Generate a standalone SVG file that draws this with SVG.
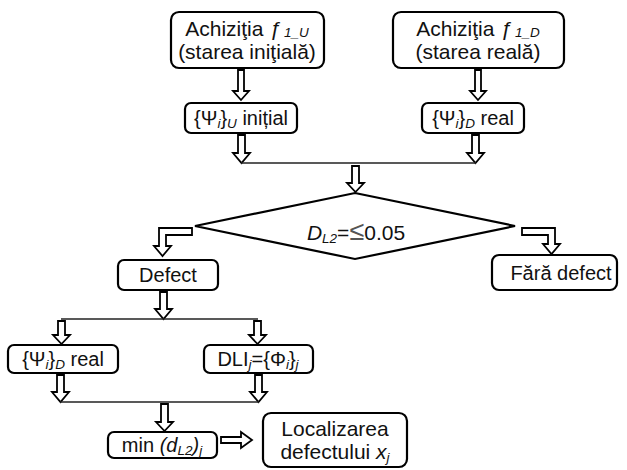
<svg xmlns="http://www.w3.org/2000/svg" width="627" height="470" viewBox="0 0 627 470">
<style>
.box{fill:#fff;stroke:#000;stroke-width:2.2}
.arr{fill:#fff;stroke:#000;stroke-width:1.8;stroke-linejoin:miter}
.ln{fill:none;stroke:#222;stroke-width:1.4}
text{font-family:"Liberation Sans",Arial,sans-serif;font-size:20px;fill:#111}
.big{font-size:21px}
.it{font-style:italic}
.sub{font-style:italic;font-size:13.5px}
</style>
<rect width="627" height="470" fill="#fff"/>
<g id="connectors">
<path class="arr" d="M238,70 H244 V91 H249 L241,100 L233,91 H238 Z"/>
<path class="arr" d="M475,70 H481 V91 H486 L478,100 L470,91 H475 Z"/>
<path class="arr" d="M238,135 H245 V153 H250 L241.5,163 L233,153 H238 Z"/>
<path class="arr" d="M472,135 H479 V153 H484 L475.5,163 L467,153 H472 Z"/>
<line class="ln" x1="241" y1="163" x2="476" y2="163"/>
<path class="arr" d="M352,166 H359 V183 H364 L355.5,192 L347,183 H352 Z"/>
<path class="arr" d="M192,228 H159 V246 H154 L162.5,256 L171,246 H166 V235 H192 Z"/>
<path class="arr" d="M522,228 H555 V244 H560 L551.5,254 L543,244 H548 V235 H522 Z"/>
<path class="arr" d="M160,292 H167 V309 H172 L163.5,319 L155,309 H160 Z"/>
<line class="ln" x1="61" y1="319" x2="258" y2="319"/>
<path class="arr" d="M58,321 H65 V335 H70 L61.5,344 L53,335 H58 Z"/>
<path class="arr" d="M254,321 H261 V335 H266 L257.5,344 L249,335 H254 Z"/>
<path class="arr" d="M57,375 H64 V392 H69 L60.5,402 L52,392 H57 Z"/>
<path class="arr" d="M255,375 H262 V392 H267 L258.5,402 L250,392 H255 Z"/>
<line class="ln" x1="60" y1="402" x2="259" y2="402"/>
<path class="arr" d="M161,404 H168 V422 H173 L164.5,431 L156,422 H161 Z"/>
<path class="arr" d="M221,437 H241 V432 L252,440 L241,448 V443 H221 Z"/>
</g>
<g id="n1">
<rect class="box" x="171" y="12" width="153" height="56" rx="8"/>
<text class="big" x="247" y="36" text-anchor="middle">Achiziţia <tspan class="it">ƒ</tspan><tspan class="sub" dx="3" dy="1">1_U</tspan></text>
<text class="big" x="247" y="59" text-anchor="middle">(starea iniţială)</text>
</g>
<g id="n2">
<rect class="box" x="393" y="12" width="171" height="56" rx="8"/>
<text class="big" x="478" y="36" text-anchor="middle">Achiziţia <tspan class="it">ƒ</tspan><tspan class="sub" dx="3" dy="1">1_D</tspan></text>
<text class="big" x="478" y="59" text-anchor="middle">(starea reală)</text>
</g>
<g id="n3">
<rect class="box" x="185" y="103" width="112" height="30" rx="6"/>
<text x="241" y="125" text-anchor="middle">{Ψ<tspan class="sub" dy="3">i</tspan><tspan dy="-3">}</tspan><tspan class="sub" dy="3">U</tspan><tspan dy="-3"> inițial</tspan></text>
</g>
<g id="n4">
<rect class="box" x="422" y="103" width="102" height="30" rx="6"/>
<text x="473" y="125" text-anchor="middle">{Ψ<tspan class="sub" dy="3">i</tspan><tspan dy="-3">}</tspan><tspan class="sub" dy="3">D</tspan><tspan dy="-3"> real</tspan></text>
</g>
<g id="n5">
<path class="box" d="M355,193 L515,226 L355,259 L195,226 Z"/>
<text class="big" x="356" y="240" text-anchor="middle"><tspan class="it">D</tspan><tspan class="sub" dy="3">L2</tspan><tspan dy="-3">=</tspan><tspan fill="#555" font-size="27">≤</tspan>0.05</text>
</g>
<g id="n6">
<rect class="box" x="118" y="260" width="100" height="30" rx="6"/>
<text x="168" y="282" text-anchor="middle">Defect</text>
</g>
<g id="n7">
<rect class="box" x="492" y="255" width="125" height="35" rx="7"/>
<text x="561" y="280" text-anchor="middle">Fără defect</text>
</g>
<g id="n8">
<rect class="box" x="8" y="345" width="110" height="28" rx="6"/>
<text x="63" y="366" text-anchor="middle">{Ψ<tspan class="sub" dy="3">i</tspan><tspan dy="-3">}</tspan><tspan class="sub" dy="3">D</tspan><tspan dy="-3"> real</tspan></text>
</g>
<g id="n9">
<rect class="box" x="204" y="345" width="109" height="28" rx="6"/>
<text x="258" y="366" text-anchor="middle">DLI<tspan class="sub" dy="3">j</tspan><tspan dy="-3">={Φ</tspan><tspan class="sub" dy="3">i</tspan><tspan dy="-3">}</tspan><tspan class="sub" dy="3">j</tspan></text>
</g>
<g id="n10">
<rect class="box" x="108" y="432" width="109" height="26" rx="6"/>
<text x="162" y="452" text-anchor="middle">min <tspan class="it">(d</tspan><tspan class="sub" dy="3">L2</tspan><tspan class="it" dy="-3">)</tspan><tspan class="sub" dy="3">j</tspan></text>
</g>
<g id="n11">
<rect class="box" x="263" y="413" width="144" height="54" rx="8"/>
<text class="big" x="335" y="436" text-anchor="middle">Localizarea</text>
<text class="big" x="335" y="459" text-anchor="middle">defectului <tspan class="it">x</tspan><tspan class="sub" dy="3">j</tspan></text>
</g>
</svg>
